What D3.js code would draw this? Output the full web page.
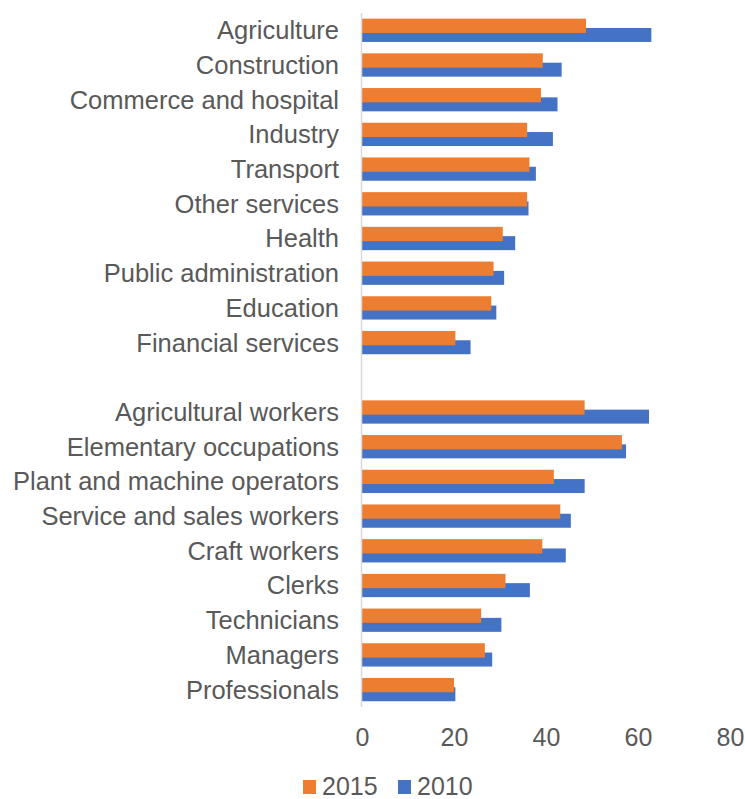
<!DOCTYPE html>
<html>
<head>
<meta charset="utf-8">
<script src="https://cdn.jsdelivr.net/npm/d3@7"></script>
<style>
  html, body { margin: 0; padding: 0; background: #fff; }
  svg { display: block; font-family: "Liberation Sans", Arial, sans-serif; }
</style>
</head>
<body>
<svg id="chart" width="745" height="799"></svg>
<script>
// Sectors, then a blank spacer row, then occupations
const categories = [
  "Agriculture", "Construction", "Commerce and hospital", "Industry", "Transport",
  "Other services", "Health", "Public administration", "Education", "Financial services",
  "",
  "Agricultural workers", "Elementary occupations", "Plant and machine operators",
  "Service and sales workers", "Craft workers", "Clerks", "Technicians", "Managers", "Professionals"
];
const values2015 = [
  48.7, 39.3, 38.9, 35.9, 36.4, 35.9, 30.6, 28.6, 28.1, 20.3,
  null,
  48.4, 56.5, 41.7, 43.1, 39.2, 31.2, 25.9, 26.7, 20.0
];
const values2010 = [
  62.9, 43.4, 42.5, 41.5, 37.8, 36.2, 33.3, 30.9, 29.2, 23.6,
  null,
  62.4, 57.4, 48.4, 45.4, 44.3, 36.5, 30.3, 28.3, 20.3
];
const xTicks = [0, 20, 40, 60, 80];
const seriesNames = ["2015", "2010"];
const seriesColors = ["#ED7D31", "#4472C4"];

const svg = d3.select("#chart");
const textColor = "#595959";
const fontSize = 25;
const labelFontSize = 25.5;

const rows = categories.map((c, i) => ({ key: i, label: c, v2015: values2015[i], v2010: values2010[i] }));

const x = d3.scaleLinear().domain([0, 80]).range([362, 730]);
const y = d3.scaleBand().domain(rows.map(d => d.key)).range([13, 707]).padding(0);
const bw = y.bandwidth();
const center = k => y(k) + bw / 2;

// 2010 bars (drawn first, partly covered by 2015)
svg.append("g").selectAll("rect")
  .data(rows.filter(d => d.v2010 != null))
  .join("rect")
  .attr("x", x(0))
  .attr("y", d => center(d.key) - 0.069 * bw)
  .attr("width", d => x(d.v2010) - x(0))
  .attr("height", 0.403 * bw)
  .attr("fill", seriesColors[1]);

// 2015 bars
svg.append("g").selectAll("rect")
  .data(rows.filter(d => d.v2015 != null))
  .join("rect")
  .attr("x", x(0))
  .attr("y", d => center(d.key) - 0.337 * bw)
  .attr("width", d => x(d.v2015) - x(0))
  .attr("height", 0.412 * bw)
  .attr("fill", seriesColors[0]);

// Vertical category axis line
svg.append("line")
  .attr("x1", x(0) - 0.5).attr("x2", x(0) - 0.5)
  .attr("y1", y.range()[0]).attr("y2", y.range()[1])
  .attr("stroke", "#d9d9d9").attr("stroke-width", 1.5);

// Category labels
svg.append("g").selectAll("text")
  .data(rows.filter(d => d.label))
  .join("text")
  .attr("x", 339)
  .attr("y", d => center(d.key))
  .attr("dy", "0.35em")
  .attr("text-anchor", "end")
  .attr("font-size", labelFontSize)
  .attr("fill", textColor)
  .text(d => d.label);

// Value axis tick labels
const xAxis = d3.axisBottom(x).tickValues(xTicks).tickSize(0).tickPadding(0);
const gx = svg.append("g").attr("transform", "translate(0,728)").call(xAxis);
gx.select(".domain").remove();
gx.selectAll("text")
  .attr("font-size", fontSize)
  .attr("font-family", "'Liberation Sans', Arial, sans-serif")
  .attr("fill", textColor)
  .attr("dy", "0.72em");

// Legend
const legendItems = [
  { name: seriesNames[0], color: seriesColors[0], x: 303 },
  { name: seriesNames[1], color: seriesColors[1], x: 398 }
];
const lg = svg.append("g").selectAll("g").data(legendItems).join("g")
  .attr("transform", d => `translate(${d.x},780)`);
lg.append("rect").attr("width", 13).attr("height", 14).attr("fill", d => d.color);
lg.append("text")
  .attr("x", 19).attr("y", 15)
  .attr("font-size", fontSize)
  .attr("fill", textColor)
  .text(d => d.name);
</script>
</body>
</html>
